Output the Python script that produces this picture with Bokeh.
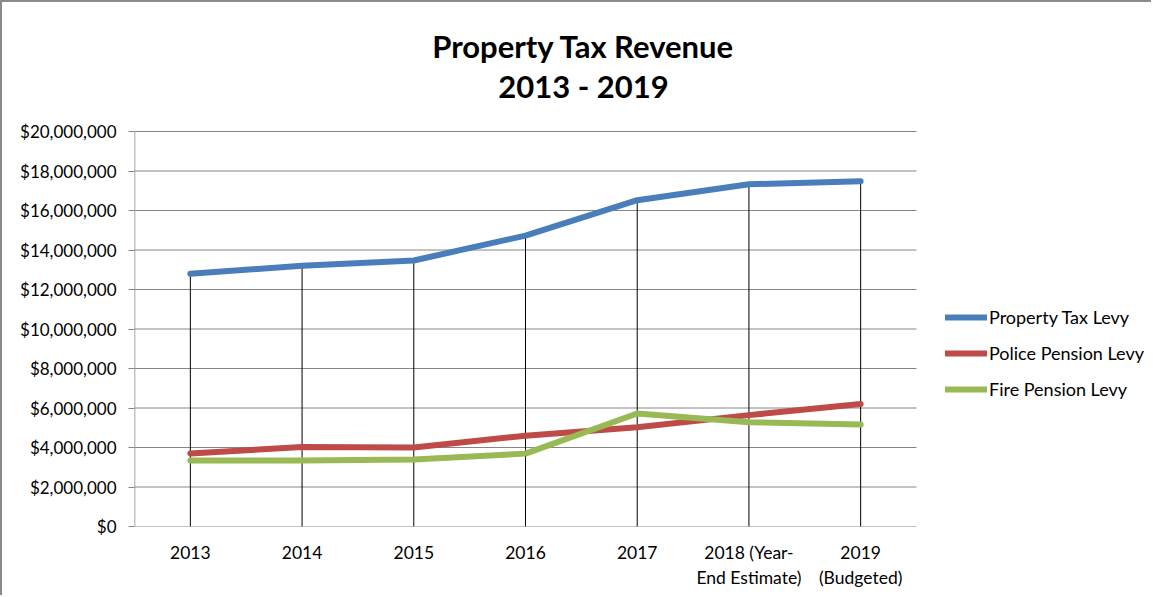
from bokeh.plotting import figure
from bokeh.models import (Range1d, FixedTicker, NumeralTickFormatter, Legend, LegendItem, Label)
from bokeh.embed import file_html
from bokeh.resources import INLINE

categories = ["2013", "2014", "2015", "2016", "2017", "2018 (Year-\nEnd Estimate)", "2019\n(Budgeted)"]
property_tax = [12800000, 13200000, 13470000, 14730000, 16520000, 17330000, 17480000]
police_pension = [3700000, 4020000, 4000000, 4600000, 5020000, 5640000, 6200000]
fire_pension = [3340000, 3340000, 3390000, 3690000, 5720000, 5280000, 5160000]
y_ticks = list(range(0, 20000001, 2000000))

FONT = "Lato"
xs = list(range(len(categories)))
n = len(categories)

W, H = 1151, 595
LEFT, BOTTOM = 132, 71
FRAME_W, FRAME_H = W - LEFT, H - BOTTOM
CAT_PX = 782 / n          # pixel width of one category band
AXIS_PX = 395             # pixel height of the 0..20M value axis
ymax = y_ticks[-1]

p = figure(width=W, height=H, output_backend="svg", toolbar_location=None,
           x_range=Range1d(-0.5, -0.5 + FRAME_W / CAT_PX),
           y_range=Range1d(0, ymax * FRAME_H / AXIS_PX),
           min_border_left=LEFT, min_border_right=0, min_border_top=0, min_border_bottom=BOTTOM,
           styles={"border-left": "2px solid #8a8a8a", "border-top": "2px solid #8a8a8a"})
p.outline_line_color = None
p.background_fill_color = "white"
p.border_fill_color = "white"

# axes
p.xaxis.ticker = FixedTicker(ticks=xs)
p.xaxis.major_label_overrides = {i: c for i, c in enumerate(categories)}
p.xaxis.major_tick_line_color = None
p.xaxis.minor_tick_line_color = None
p.xaxis.axis_line_color = None
p.xaxis.major_label_text_font = FONT
p.xaxis.major_label_text_font_size = "17.5px"
p.xaxis.major_label_text_color = "black"
p.xaxis.major_label_text_line_height = 1.2
p.xaxis.major_label_standoff = 9

p.yaxis.ticker = FixedTicker(ticks=y_ticks)
p.yaxis.formatter = NumeralTickFormatter(format="$0,0")
p.yaxis.major_tick_out = 6
p.yaxis.major_tick_in = 0
p.yaxis.minor_tick_line_color = None
p.yaxis.major_tick_line_color = "#868686"
p.yaxis.axis_line_color = None
p.yaxis.major_label_text_font = FONT
p.yaxis.major_label_text_font_size = "17px"
p.yaxis.major_label_text_color = "black"
p.yaxis.major_label_standoff = 12

p.xgrid.grid_line_color = None
p.ygrid.grid_line_color = None

# gridlines and axis lines limited to the plot area
p.segment(x0=[-0.5] * len(y_ticks), y0=y_ticks, x1=[n - 0.5] * len(y_ticks), y1=y_ticks,
          line_color="#868686", line_width=1)
p.segment(x0=[-0.5], y0=[0], x1=[-0.5], y1=[ymax], line_color="#868686", line_width=1.5)

# drop lines
tops = [max(a, b, c) for a, b, c in zip(property_tax, police_pension, fire_pension)]
p.segment(x0=xs, y0=[0] * n, x1=xs, y1=tops, line_color="black", line_width=1)

r1 = p.line(xs, property_tax, line_color="#4A7EBB", line_width=6, line_cap="round", line_join="round")
r2 = p.line(xs, police_pension, line_color="#BE4B48", line_width=6, line_cap="round", line_join="round")
r3 = p.line(xs, fire_pension, line_color="#98B954", line_width=6, line_cap="round", line_join="round")

legend = Legend(items=[LegendItem(label="Property Tax Levy", renderers=[r1]),
                       LegendItem(label="Police Pension Levy", renderers=[r2]),
                       LegendItem(label="Fire Pension Levy", renderers=[r3])],
                location=(811, 126), orientation="vertical",
                glyph_width=42, glyph_height=20, label_height=20, spacing=14,
                padding=0, margin=0, label_standoff=2,
                border_line_color=None, background_fill_alpha=0,
                label_text_font=FONT, label_text_font_size="18px", label_text_color="black")
p.add_layout(legend, "center")

p.add_layout(Label(x=449, y=481, x_units="screen", y_units="screen", text="Property Tax Revenue",
                   text_align="center", text_baseline="middle", text_font=FONT,
                   text_font_style="bold", text_font_size="31px", text_color="black"))
p.add_layout(Label(x=449, y=441, x_units="screen", y_units="screen", text="2013 - 2019",
                   text_align="center", text_baseline="middle", text_font=FONT,
                   text_font_style="bold", text_font_size="31px", text_color="black"))

open("out.html", "w").write(file_html(p, INLINE))
